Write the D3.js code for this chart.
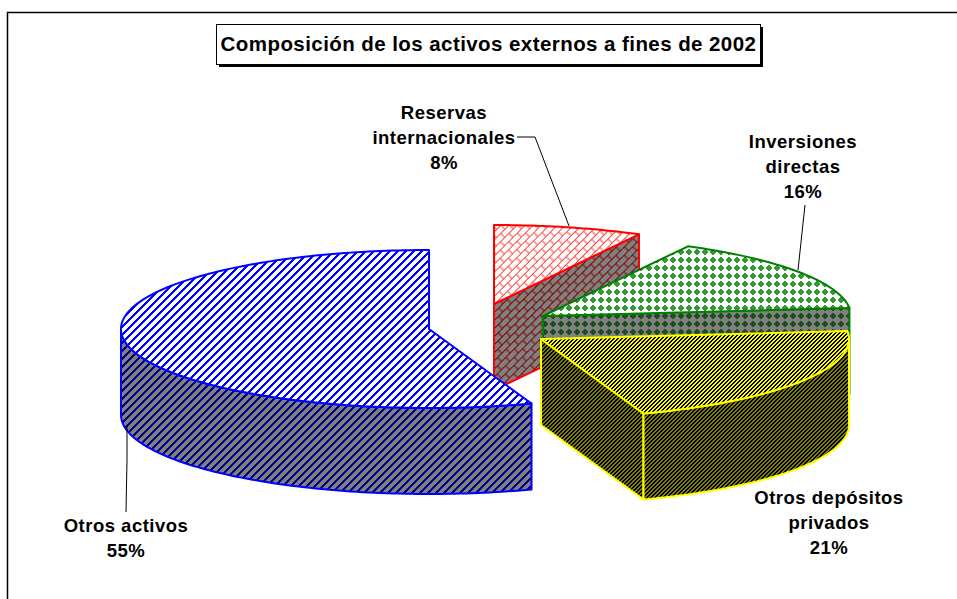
<!DOCTYPE html>
<html>
<head>
<meta charset="utf-8">
<script src="https://cdn.jsdelivr.net/npm/d3@7"></script>
<style>
body { margin: 0; background: #fff; }
text { font-family: "Liberation Sans", Arial, sans-serif; font-weight: bold; fill: #000; }
</style>
</head>
<body>
<div id="panel"></div>
<script>
var titleText = 'Composición de los activos externos a fines de 2002';
var categories = ['Reservas internacionales', 'Inversiones directas', 'Otros depósitos privados', 'Otros activos'];
var shares = [7.8, 15.6, 21.2, 55.4];
var labelLines = [['Reservas', 'internacionales'], ['Inversiones', 'directas'], ['Otros depósitos', 'privados'], ['Otros activos']];

var w = 957;
var h = 599;
var rx = 308;
var ry = 79;
var depth = 86;

// each slice is pulled out of the pie by its own amount
var centres = [[494, 304], [543, 316], [541, 339], [429, 329]];
var strokes = ['#ff0000', '#008000', '#ffff00', '#0000ff'];
var topFill = ['url(#redTop)', 'url(#greenTop)', 'url(#yellowTop)', 'url(#blueTop)'];
var sideFill = ['url(#redSide)', 'url(#greenSide)', 'url(#yellowSide)', 'url(#blueSide)'];
var labelPos = [[444, 119], [803, 148], [829, 504], [126, 532]];
var leaders = [
  [[517, 137], [535, 137], [569, 226]],
  [[805, 205], [798, 270]],
  [],
  [[127, 425], [127, 460], [126, 512]]
];

var svg = d3.select('#panel').append('svg').attr('width', w).attr('height', h).style('display', 'block');
var defs = svg.append('defs');

// staircase hatch built a pixel at a time, like the old bitmap fills
function stripes(id, size, run, bg, fg) {
  var p = defs.append('pattern').attr('id', id).attr('patternUnits', 'userSpaceOnUse')
    .attr('width', size).attr('height', size);
  p.append('rect').attr('width', size).attr('height', size).attr('fill', bg);
  d3.range(size).forEach(function (y) {
    d3.range(run).forEach(function (k) {
      p.append('rect').attr('x', (size - 1 - y + k) % size).attr('y', y)
        .attr('width', 1).attr('height', 1).attr('fill', fg);
    });
  });
}

function bricks(id, bg, fg) {
  var p = defs.append('pattern').attr('id', id).attr('patternUnits', 'userSpaceOnUse')
    .attr('width', 12).attr('height', 11.4).attr('patternTransform', 'rotate(-45)');
  p.append('rect').attr('width', 12).attr('height', 11.4).attr('fill', bg);
  p.append('path')
    .attr('d', 'M0,0.5H12M0,6.2H12M3,0.5V6.2M9,6.2V11.9')
    .attr('fill', 'none').attr('stroke', fg).attr('stroke-width', 1);
}

function dots(id, bg, fg) {
  var p = defs.append('pattern').attr('id', id).attr('patternUnits', 'userSpaceOnUse')
    .attr('width', 8).attr('height', 8).attr('patternTransform', 'translate(-3,0)');
  p.append('rect').attr('width', 8).attr('height', 8).attr('fill', bg);
  p.append('path').attr('d', 'M4,0.5L7.5,4L4,7.5L0.5,4Z').attr('fill', fg).attr('shape-rendering', 'crispEdges');
}

stripes('blueTop', 8, 3, '#ffffff', '#0000ff');
stripes('blueSide', 8, 3, '#808080', '#000080');
stripes('yellowTop', 4, 2, '#ffff00', '#000000');
stripes('yellowSide', 4, 2, '#808000', '#000000');
bricks('redTop', '#ffffff', '#ff4040');
bricks('redSide', '#808080', '#800000');
dots('greenTop', '#ffffff', '#339933');
dots('greenSide', '#808080', '#1f4f1f');

// frame, open on the right
svg.append('path').attr('d', 'M7.5,599V12.5H957').attr('fill', 'none').attr('stroke', '#000').attr('stroke-width', 1.5);

var pie = d3.pie().sort(null).value(function (d) { return d; });
var arcs = pie(shares);

var ex = d3.scaleLinear().domain([-1, 1]).range([-rx, rx]);
var ey = d3.scaleLinear().domain([-1, 1]).range([-ry, ry]);

function px(i, a) { return centres[i][0] + ex(Math.sin(a)); }
function py(i, a) { return centres[i][1] - ey(Math.cos(a)); }

function sweep(a0, a1) {
  var n = Math.max(2, Math.ceil((a1 - a0) / 0.02));
  return d3.range(n + 1).map(function (k) { return a0 + (a1 - a0) * k / n; });
}

function topPath(i) {
  var line = d3.line()
    .x(function (a) { return px(i, a); })
    .y(function (a) { return py(i, a); });
  return 'M' + centres[i][0] + ',' + centres[i][1] + 'L' + line(sweep(arcs[i].startAngle, arcs[i].endAngle)).slice(1) + 'Z';
}

function wallPath(i, a) {
  var c = centres[i];
  return 'M' + c[0] + ',' + c[1] + 'L' + px(i, a) + ',' + py(i, a) +
    'L' + px(i, a) + ',' + (py(i, a) + depth) + 'L' + c[0] + ',' + (c[1] + depth) + 'Z';
}

function rimPath(i, a0, a1) {
  var upper = sweep(a0, a1).map(function (a) { return [px(i, a), py(i, a)]; });
  var lower = sweep(a0, a1).reverse().map(function (a) { return [px(i, a), py(i, a) + depth]; });
  return d3.line()(upper.concat(lower)) + 'Z';
}

// back slices first so the nearer ones cover them
[0, 1, 3, 2].forEach(function (i) {
  var d = arcs[i];
  var g = svg.append('g').attr('stroke', strokes[i]).attr('stroke-width', 2).attr('stroke-linejoin', 'round');
  if (d.endAngle < Math.PI) {
    g.append('path').attr('d', wallPath(i, d.endAngle)).attr('fill', sideFill[i]);
  }
  if (d.startAngle > Math.PI) {
    g.append('path').attr('d', wallPath(i, d.startAngle)).attr('fill', sideFill[i]);
  }
  var a0 = Math.max(d.startAngle, Math.PI / 2);
  var a1 = Math.min(d.endAngle, Math.PI * 1.5);
  if (a1 > a0) {
    g.append('path').attr('d', rimPath(i, a0, a1)).attr('fill', sideFill[i]);
  }
  g.append('path').attr('d', topPath(i)).attr('fill', topFill[i]);
});

// leader lines
var leaderLine = d3.line();
leaders.forEach(function (pts) {
  if (pts.length) {
    svg.append('path').attr('d', leaderLine(pts)).attr('fill', 'none').attr('stroke', '#000').attr('stroke-width', 1);
  }
});

// labels
var fmt = d3.format('.0f');
categories.forEach(function (c, i) {
  var t = svg.append('text').attr('text-anchor', 'middle').attr('font-size', 18.5).attr('letter-spacing', 0.5);
  labelLines[i].concat([fmt(shares[i]) + '%']).forEach(function (s, k) {
    t.append('tspan').attr('x', labelPos[i][0]).attr('y', labelPos[i][1] + k * 25).text(s);
  });
});

// title box
svg.append('rect').attr('x', 219).attr('y', 27).attr('width', 544).attr('height', 40).attr('fill', '#000');
svg.append('rect').attr('x', 216.5).attr('y', 24.5).attr('width', 544).attr('height', 40).attr('fill', '#fff').attr('stroke', '#000');
svg.append('text').attr('x', 488.5).attr('y', 51).attr('text-anchor', 'middle')
  .attr('font-size', 20.5).attr('letter-spacing', 0.43).text(titleText);
</script>
</body>
</html>
